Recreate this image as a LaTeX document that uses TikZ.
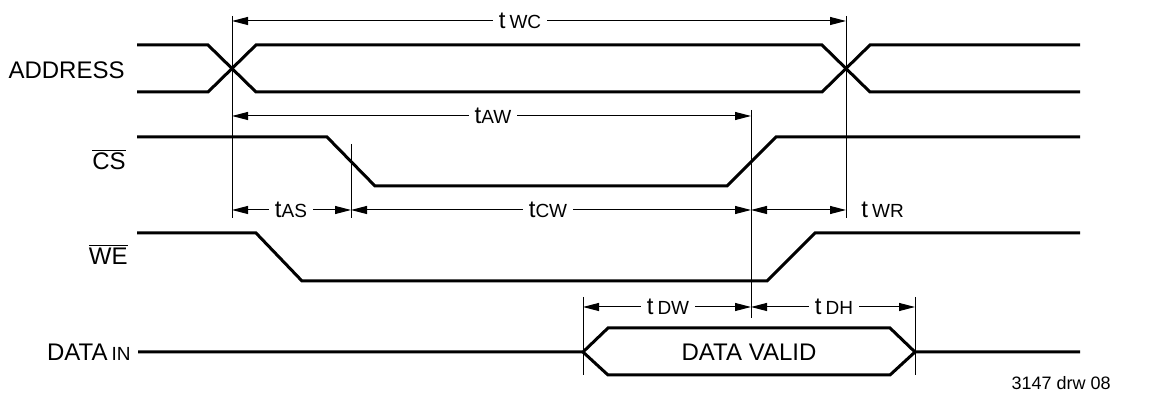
\documentclass[tikz,border=0pt]{standalone}
\usepackage{fontspec}
\setmainfont{Liberation Sans}
\usetikzlibrary{arrows.meta}
\newcommand\tsub[1]{{\fontsize{9.5}{11}\selectfont #1}}
\begin{document}
\begin{tikzpicture}[x=0.5pt,y=-0.5pt,
  sig/.style={line width=1.5pt, line join=miter},
  dim/.style={line width=0.5pt},
  arr/.style={dim,{Triangle[length=8pt,width=4pt]}-{Triangle[length=8pt,width=4pt]}},
  lbl/.style={font=\fontsize{12}{14}\selectfont, inner sep=0pt},
  tlbl/.style={font=\fontsize{12}{14}\selectfont, fill=white, inner xsep=3pt, inner ysep=1pt},
]
\useasboundingbox (0,0) rectangle (1158,395);

% signal labels
\node[lbl, anchor=base east] (addr) at (125,79) {ADDRESS};
\node[lbl, anchor=base east] (cs) at (126,170) {$\overline{\mbox{CS}}$};
\node[lbl, anchor=base east] (we) at (128,265) {$\overline{\mbox{WE}}$};
\node[lbl, anchor=base east] (din) at (131,361) {DATA\,\tsub{IN}};

% waveforms
\draw[sig] (137,45)--(208,45)--(256,92)--(822,92)--(870,45)--(1080,45);
\draw[sig] (137,92)--(208,92)--(256,45)--(822,45)--(870,92)--(1080,92);
\draw[sig] (137,137)--(327,137)--(375,186)--(727,186)--(776,137)--(1080,137);
\draw[sig] (137,233)--(256,233)--(302,281)--(767,281)--(815,233)--(1080,233);
\draw[sig] (138,352)--(583,352)--(608,328)--(890,328)--(915,352)--(1080,352);
\draw[sig] (583,352)--(608,375)--(890,375)--(915,352);
\node[lbl] (dv) at (749,352) {DATA VALID};

% reference verticals
\coordinate (a1) at (232,16);  \coordinate (a2) at (232,218);
\coordinate (d1) at (846,16);  \coordinate (d2) at (846,218);
\coordinate (b1) at (351,144); \coordinate (b2) at (351,218);
\coordinate (c1) at (751,110); \coordinate (c2) at (751,318);
\coordinate (e1) at (583,297); \coordinate (e2) at (583,375);
\coordinate (f1) at (915,297); \coordinate (f2) at (915,375);
\draw[dim] (a1)--(a2);
\draw[dim] (d1)--(d2);
\draw[dim] (b1)--(b2);
\draw[dim] (c1)--(c2);
\draw[dim] (e1)--(e2);
\draw[dim] (f1)--(f2);

% dimension arrows
\draw[arr] (232,21)--(846,21);
\node[tlbl] (twc) at (520,21) {t\,\tsub{WC}};
\draw[arr] (232,116)--(751,116);
\node[tlbl] (taw) at (493,116) {t\tsub{AW}};
\draw[arr] (232,210)--(351,210);
\node[tlbl] (tas) at (291,210) {t\tsub{AS}};
\draw[arr] (351,210)--(751,210);
\node[tlbl] (tcw) at (548,210) {t\tsub{CW}};
\draw[arr] (751,210)--(846,210);
\node[lbl, anchor=west] (twr) at (861,210) {t\,\tsub{WR}};
\draw[arr] (583,307)--(751,307);
\node[tlbl] (tdw) at (668,307) {t\,\tsub{DW}};
\draw[arr] (751,307)--(915,307);
\node[tlbl] (tdh) at (834,307) {t\,\tsub{DH}};

\node[anchor=east, inner sep=0pt, font=\fontsize{9}{11}\selectfont] (drw) at (1111,383) {3147 drw 08};
\end{tikzpicture}
\end{document}
